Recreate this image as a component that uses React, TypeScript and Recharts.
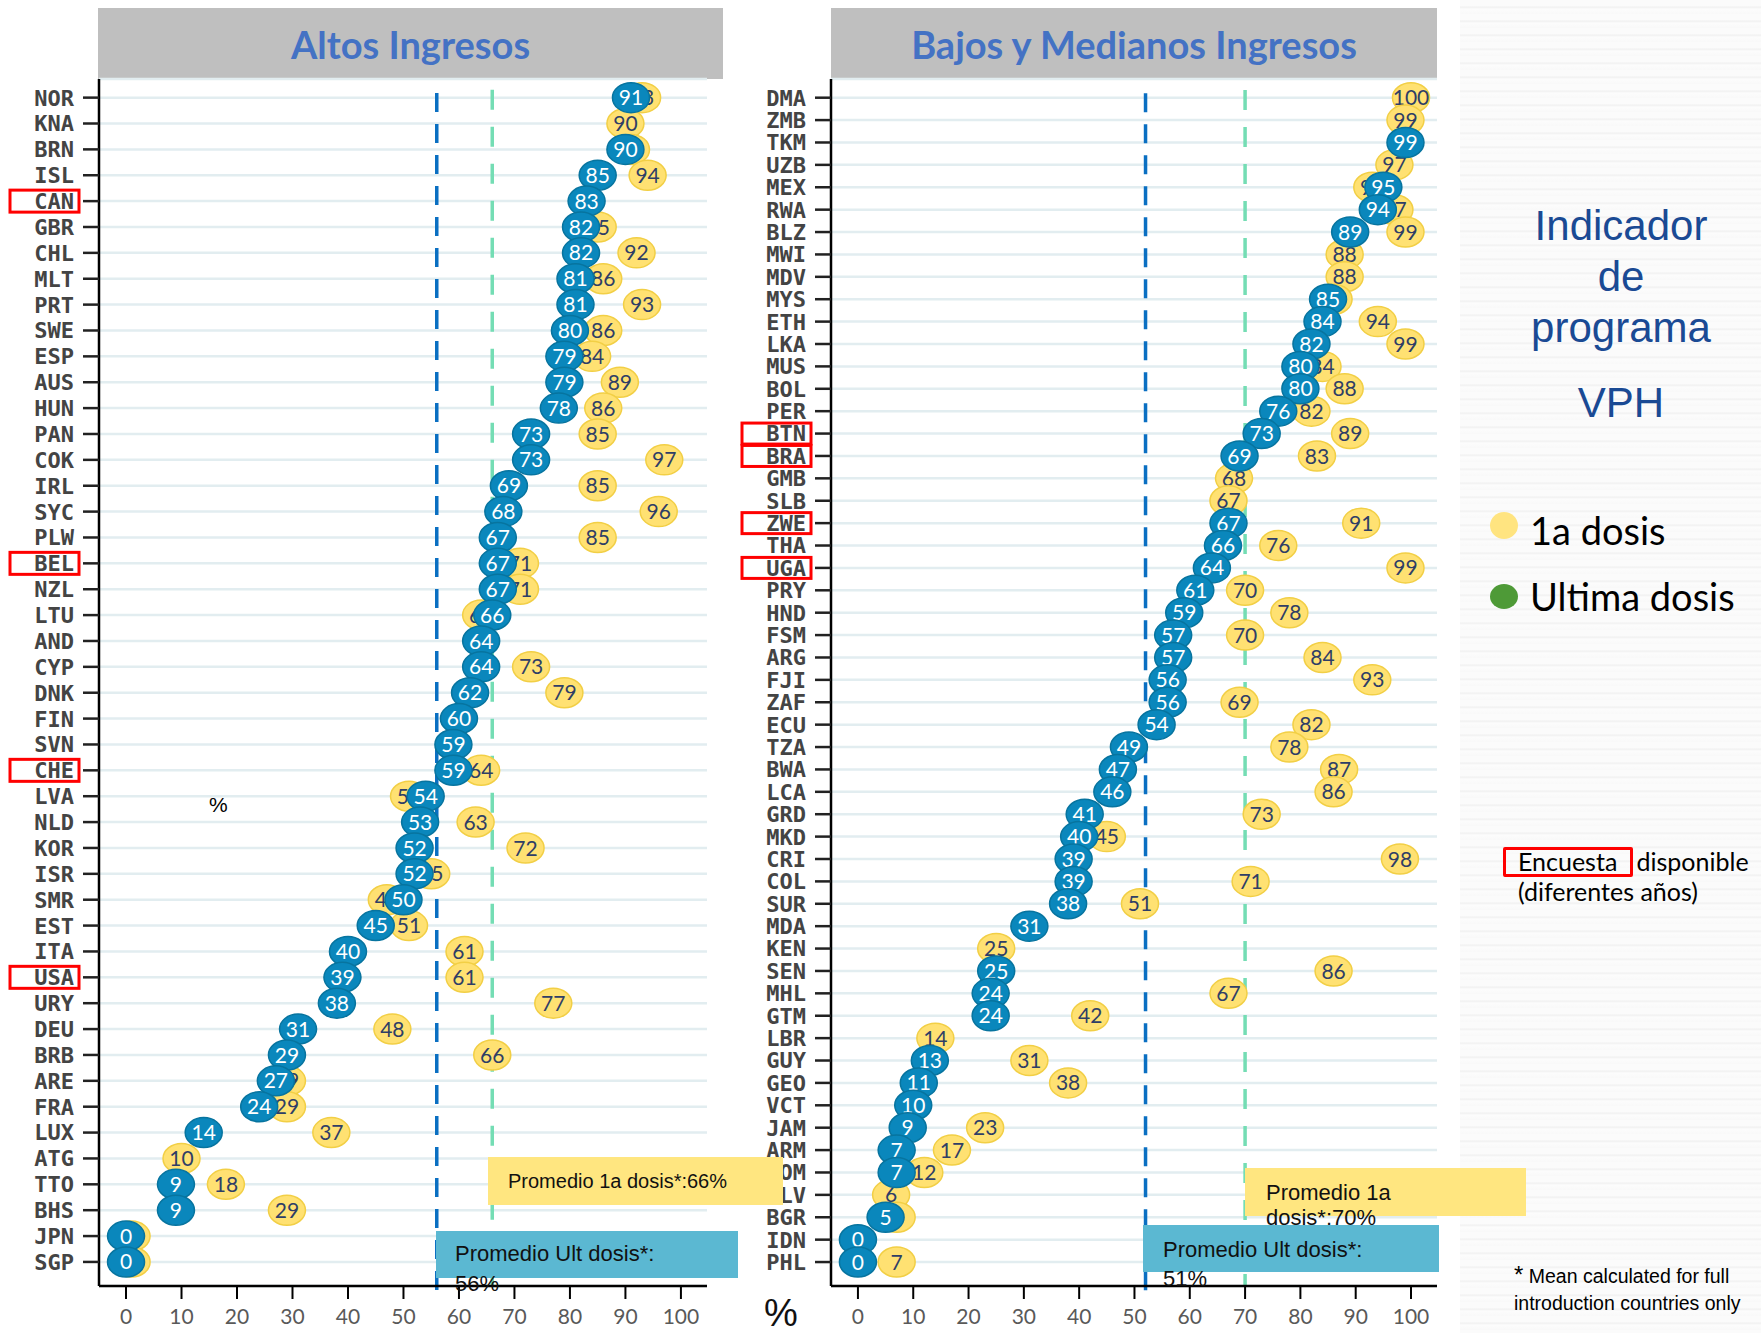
import React from "react";
import { ScatterChart, Scatter, XAxis, YAxis, CartesianGrid, ReferenceLine } from "recharts";

// Altos ingresos
const hiCountries = ["NOR","KNA","BRN","ISL","CAN","GBR","CHL","MLT","PRT","SWE","ESP","AUS","HUN","PAN","COK","IRL","SYC","PLW","BEL","NZL","LTU","AND","CYP","DNK","FIN","SVN","CHE","LVA","NLD","KOR","ISR","SMR","EST","ITA","USA","URY","DEU","BRB","ARE","FRA","LUX","ATG","TTO","BHS","JPN","SGP"];
const hiLast: (number | null)[] = [91,null,90,85,83,82,82,81,81,80,79,79,78,73,73,69,68,67,67,67,66,64,64,62,60,59,59,54,53,52,52,50,45,40,39,38,31,29,27,24,14,null,9,9,0,0];
const hiFirst: (number | null)[] = [93,90,91,94,null,85,92,86,93,86,84,89,86,85,97,85,96,85,71,71,64,null,73,79,null,null,64,51,63,72,55,47,51,61,61,77,48,66,29,29,37,10,18,29,1,1];
const hiSurvey = ["CAN","BEL","CHE","USA"];

// Bajos y medianos ingresos
const lmCountries = ["DMA","ZMB","TKM","UZB","MEX","RWA","BLZ","MWI","MDV","MYS","ETH","LKA","MUS","BOL","PER","BTN","BRA","GMB","SLB","ZWE","THA","UGA","PRY","HND","FSM","ARG","FJI","ZAF","ECU","TZA","BWA","LCA","GRD","MKD","CRI","COL","SUR","MDA","KEN","SEN","MHL","GTM","LBR","GUY","GEO","VCT","JAM","ARM","DOM","SLV","BGR","IDN","PHL"];
const lmLast: (number | null)[] = [null,null,99,null,95,94,89,null,null,85,84,82,80,80,76,73,69,null,null,67,66,64,61,59,57,57,56,56,54,49,47,46,41,40,39,39,38,31,null,25,24,24,null,13,11,10,9,7,7,null,5,0,0];
const lmFirst: (number | null)[] = [100,99,null,97,93,97,99,88,88,86,94,99,84,88,82,89,83,68,67,91,76,99,70,78,70,84,93,69,82,78,87,86,73,45,98,71,51,null,25,86,67,42,14,31,38,null,23,17,12,6,7,null,7];
const lmSurvey = ["BTN","BRA","ZWE","UGA"];

const xTicks = [0, 10, 20, 30, 40, 50, 60, 70, 80, 90, 100];

const BLUE = "#0A87BC";
const YELLOW = "#FFE172";

const toPoints = (vals: (number | null)[]) =>
  vals.map((v, i) => ({ idx: i, v })).filter((d) => d.v !== null);

const makeBubble = (fill: string, stroke: string, color: string) => (props: any) => {
  const { cx, cy, payload } = props;
  if (cx == null || cy == null) return <g />;
  return (
    <g>
      <ellipse cx={cx} cy={cy} rx={18.5} ry={15} fill={fill} stroke={stroke} strokeWidth={1.5} />
      <text x={cx} y={cy} dy="0.36em" textAnchor="middle" fill={color}
        style={{ fontFamily: "Lato, sans-serif", fontSize: 21 }}>
        {payload.v}
      </text>
    </g>
  );
};

const yellowBubble = makeBubble(YELLOW, "#F2CF45", "#2F3E66");
const blueBubble = makeBubble(BLUE, "#07749F", "#ffffff");

const makeTick = (countries: string[], survey: string[], boxH: number) => (props: any) => {
  const { x, y, payload } = props;
  const name = countries[payload.value];
  return (
    <g>
      {survey.includes(name) && (
        <rect x={x - 64} y={y - boxH / 2} width={69} height={boxH} fill="none" stroke="#FF0000" strokeWidth={3} />
      )}
      <text x={x} y={y} dy="0.36em" textAnchor="end" fill="#444"
        style={{ fontFamily: "'DejaVu Sans Mono', monospace", fontWeight: 700, fontSize: 22 }}>
        {name}
      </text>
    </g>
  );
};

interface PanelProps {
  countries: string[];
  last: (number | null)[];
  first: (number | null)[];
  survey: string[];
  yDomain: [number, number];
  avgLast: number;
  avgFirst: number;
  marginLeft: number;
  width: number;
  boxH: number;
  lineTopLast: number;
  lineTopFirst: number;
}

function Panel(p: PanelProps) {
  const n = p.countries.length;
  return (
    <ScatterChart width={p.width} height={1333} margin={{ top: 79, right: 23, left: p.marginLeft, bottom: 7 }}>
      <CartesianGrid vertical={false} stroke="#E2EDF0" strokeWidth={2.5} />
      <XAxis
        type="number"
        dataKey="v"
        domain={[-4.87, 104.7]}
        allowDataOverflow
        ticks={xTicks}
        interval={0}
        height={40}
        tickSize={13}
        tickMargin={10}
        axisLine={{ stroke: "#000", strokeWidth: 2.5 }}
        tickLine={{ stroke: "#000", strokeWidth: 2 }}
        tick={{ fill: "#595959", fontSize: 21, fontFamily: "Lato, sans-serif" }}
      />
      <YAxis
        type="number"
        dataKey="idx"
        domain={p.yDomain}
        allowDataOverflow
        reversed
        ticks={p.countries.map((_, i) => i)}
        interval={0}
        width={80}
        tickSize={16}
        tickMargin={9}
        axisLine={{ stroke: "#000", strokeWidth: 2.5 }}
        tickLine={{ stroke: "#222", strokeWidth: 2.5 }}
        tick={makeTick(p.countries, p.survey, p.boxH)}
      />
      <Scatter data={toPoints(p.first)} shape={yellowBubble} isAnimationActive={false} />
      <Scatter data={toPoints(p.last)} shape={blueBubble} isAnimationActive={false} />
      <ReferenceLine
        segment={[{ x: p.avgFirst, y: p.lineTopFirst }, { x: p.avgFirst, y: p.yDomain[1] }]}
        stroke="#74DDB4" strokeWidth={3.5} strokeDasharray="20 17" ifOverflow="visible"
      />
      <ReferenceLine
        segment={[{ x: p.avgLast, y: p.lineTopLast }, { x: p.avgLast, y: p.yDomain[1] + 0.2 * (n / 46) }]}
        stroke="#0A6FC2" strokeWidth={3.5} strokeDasharray="19 12" ifOverflow="visible"
      />
    </ScatterChart>
  );
}

const titleStyle: React.CSSProperties = {
  position: "absolute",
  top: 8,
  height: 71,
  background: "#BFBFBF",
  color: "#4472C4",
  fontFamily: "Lato, sans-serif",
  fontWeight: 700,
  fontSize: 38,
  display: "flex",
  alignItems: "center",
  justifyContent: "center",
};

const boxText: React.CSSProperties = {
  position: "absolute",
  fontFamily: "'Liberation Sans', Arial, sans-serif",
  color: "#111",
  boxSizing: "border-box",
};

export default function App() {
  return (
    <div style={{ position: "absolute", left: 0, top: 0, width: 1761, height: 1333, background: "#fff", overflow: "hidden" }}>
      <div style={{
        position: "absolute", left: 1460, top: 0, width: 301, height: 1333,
        background: "repeating-linear-gradient(180deg, #fbfbfb 0px, #fbfbfb 6px, #f0f0f0 7px, #fcfcfc 9px, #f9f9f9 14px)",
      }} />
      <div style={{ ...titleStyle, left: 98, width: 625 }}>Altos Ingresos</div>
      <div style={{ ...titleStyle, left: 831, width: 606 }}>Bajos y Medianos Ingresos</div>

      <div style={{ position: "absolute", left: 0, top: 0 }}>
        <Panel countries={hiCountries} last={hiLast} first={hiFirst} survey={hiSurvey}
          yDomain={[-0.72, 45.93]} avgLast={56} avgFirst={66} marginLeft={19} width={730}
          boxH={22} lineTopLast={-0.18} lineTopFirst={-0.3} />
      </div>
      <div style={{ position: "absolute", left: 740, top: 0 }}>
        <Panel countries={lmCountries} last={lmLast} first={lmFirst} survey={lmSurvey}
          yDomain={[-0.835, 53.07]} avgLast={52} avgFirst={70} marginLeft={11} width={720}
          boxH={21} lineTopLast={-0.2} lineTopFirst={-0.34} />
      </div>

      <div style={{ position: "absolute", left: 209, top: 793, fontFamily: "'Liberation Sans', Arial, sans-serif", fontSize: 21, color: "#000" }}>%</div>
      <div style={{ position: "absolute", left: 764, top: 1292, fontFamily: "'Liberation Sans', Arial, sans-serif", fontSize: 38, color: "#111" }}>%</div>

      {/* promedio boxes */}
      <div style={{ ...boxText, left: 488, top: 1157, width: 295, height: 48, background: "#FFE680", fontSize: 20, paddingLeft: 20, lineHeight: "48px" }}>
        Promedio 1a dosis*:66%
      </div>
      <div style={{ ...boxText, left: 436, top: 1231, width: 302, height: 47, background: "#5BB8D2", fontSize: 22, paddingLeft: 19, paddingTop: 8, lineHeight: "30px" }}>
        Promedio Ult dosis*:<br />56%
      </div>
      <div style={{ ...boxText, left: 1245, top: 1168, width: 281, height: 48, background: "#FFE680", fontSize: 22, paddingLeft: 21, paddingTop: 12, lineHeight: "25px" }}>
        Promedio 1a<br />dosis*:70%
      </div>
      <div style={{ ...boxText, left: 1143, top: 1225, width: 296, height: 47, background: "#5BB8D2", fontSize: 22, paddingLeft: 20, paddingTop: 10, lineHeight: "29px" }}>
        Promedio Ult dosis*:<br />51%
      </div>

      {/* right side texts */}
      <div style={{ position: "absolute", left: 1480, top: 200, width: 282, textAlign: "center", fontFamily: "'Liberation Sans', Arial, sans-serif", fontSize: 42, color: "#1A4A94", lineHeight: "51px" }}>
        Indicador<br />de<br />programa
      </div>
      <div style={{ position: "absolute", left: 1480, top: 377, width: 282, textAlign: "center", fontFamily: "'Liberation Sans', Arial, sans-serif", fontSize: 42, color: "#1A4A94", lineHeight: "51px" }}>
        VPH
      </div>

      <div style={{ position: "absolute", left: 1490, top: 512, width: 28, height: 27, borderRadius: "50%", background: "#FFE480" }} />
      <div style={{ position: "absolute", left: 1530, top: 508, fontFamily: "Lato, sans-serif", fontSize: 38, color: "#000", lineHeight: "44px" }}>1a dosis</div>
      <div style={{ position: "absolute", left: 1490, top: 584, width: 28, height: 25, borderRadius: "50%", background: "#4E9A37" }} />
      <div style={{ position: "absolute", left: 1530, top: 574, fontFamily: "Lato, sans-serif", fontSize: 38, color: "#000", lineHeight: "44px" }}>Ultima dosis</div>

      <div style={{ position: "absolute", left: 1503, top: 847, width: 130, height: 30, border: "3px solid #FF0000", borderRadius: 2, boxSizing: "border-box" }} />
      <div style={{ position: "absolute", left: 1518, top: 846, fontFamily: "Lato, sans-serif", fontSize: 25, color: "#000", lineHeight: "30px", whiteSpace: "nowrap" }}>
        Encuesta&nbsp;&nbsp;&nbsp;disponible<br />(diferentes años)
      </div>

      <div style={{ position: "absolute", left: 1514, top: 1261, fontFamily: "'Liberation Sans', Arial, sans-serif", fontSize: 19.5, color: "#000", lineHeight: "27px", whiteSpace: "nowrap" }}>
        <span style={{ fontSize: 24 }}>*</span> Mean calculated for full<br />introduction countries only
      </div>
    </div>
  );
}
